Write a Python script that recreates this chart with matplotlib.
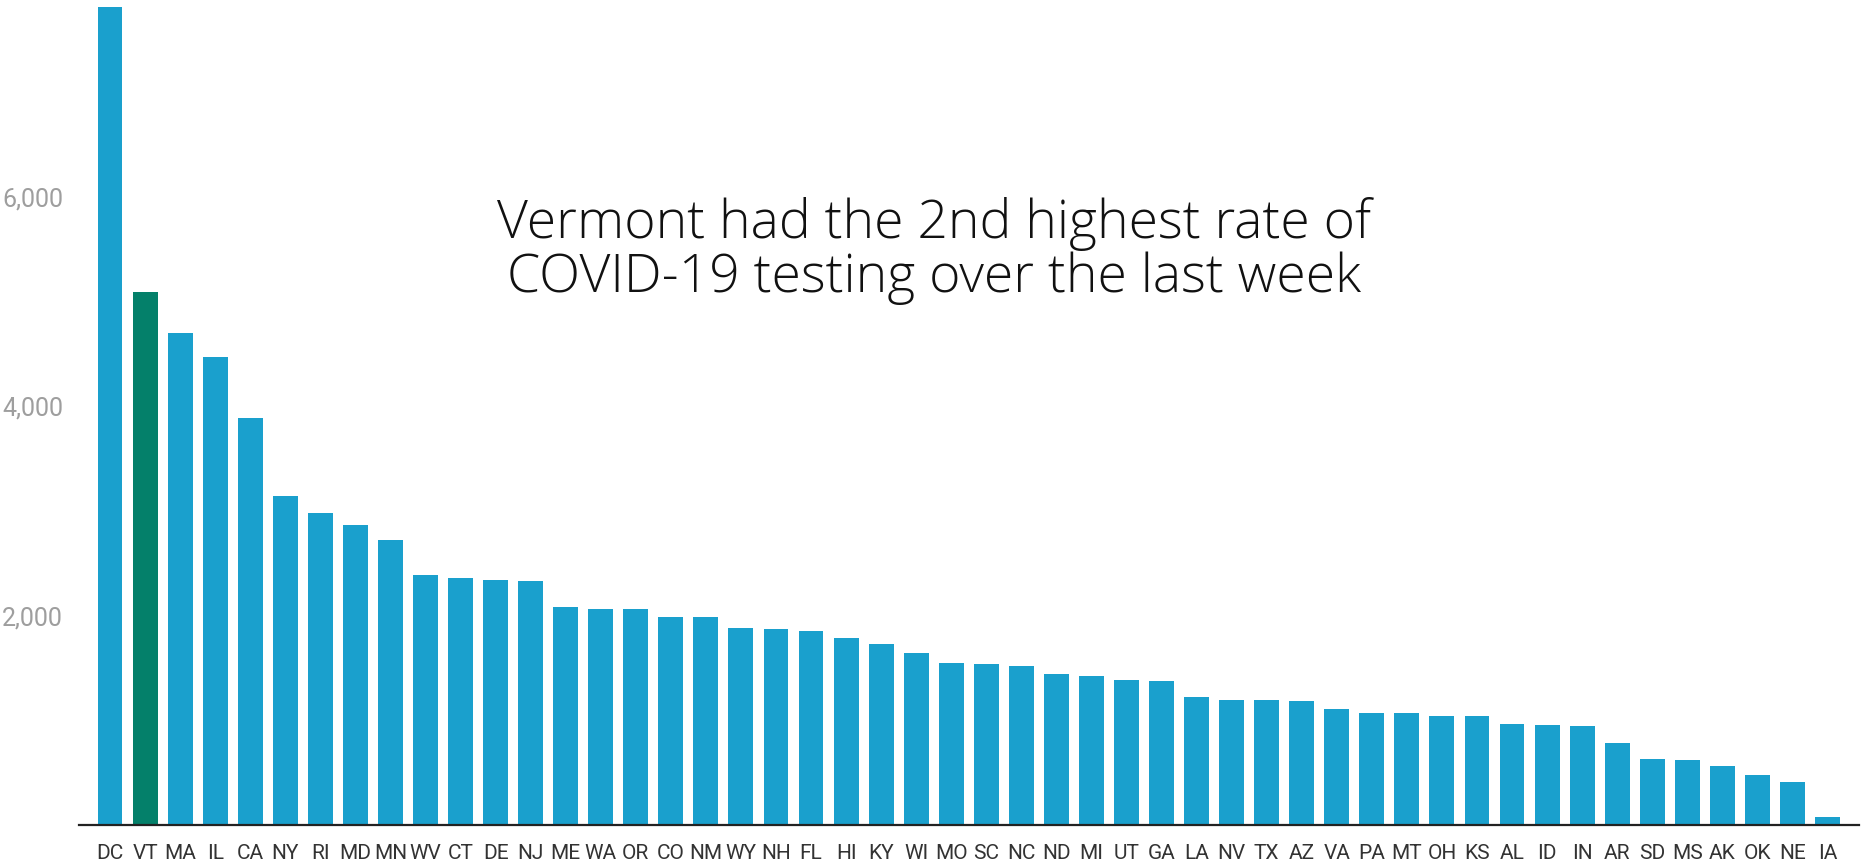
import matplotlib
matplotlib.use("Agg")
import matplotlib.pyplot as plt

states = ["DC", "VT", "MA", "IL", "CA", "NY", "RI", "MD", "MN", "WV", "CT", "DE", "NJ",
          "ME", "WA", "OR", "CO", "NM", "WY", "NH", "FL", "HI", "KY", "WI", "MO", "SC",
          "NC", "ND", "MI", "UT", "GA", "LA", "NV", "TX", "AZ", "VA", "PA", "MT", "OH",
          "KS", "AL", "ID", "IN", "AR", "SD", "MS", "AK", "OK", "NE", "IA"]
tests_per_100k = [7817, 5091, 4703, 4471, 3892, 3139, 2981, 2862, 2726, 2391, 2363, 2344, 2334,
                  2079, 2067, 2067, 1991, 1991, 1883, 1873, 1854, 1784, 1733, 1644, 1549, 1539,
                  1520, 1440, 1421, 1389, 1380, 1224, 1192, 1192, 1182, 1112, 1074, 1074, 1045,
                  1045, 969, 959, 947, 781, 632, 622, 565, 473, 415, 72]
highlight = "VT"
yticks = [2000, 4000, 6000]
ytick_labels = ["2,000", "4,000", "6,000"]
title_lines = ["Vermont had the 2nd highest rate of", "COVID-19 testing over the last week"]

BLUE = "#1aa0cd"
GREEN = "#04806a"

fig = plt.figure(figsize=(18.65, 8.65), dpi=100)
ax = fig.add_axes([78.5 / 1865, 40 / 865, (1859 - 78.5) / 1865, 825 / 865])

x = list(range(len(states)))
colors = [GREEN if s == highlight else BLUE for s in states]
ax.bar(x, tests_per_100k, width=0.71, color=colors, zorder=2)

ax.set_xlim(-0.9, len(states) - 0.1)
ax.set_ylim(0, 7880)

for s in ["top", "right", "left"]:
    ax.spines[s].set_visible(False)
ax.spines["bottom"].set_color("#222222")
ax.spines["bottom"].set_linewidth(1.6)
ax.spines["bottom"].set_zorder(3)

ax.set_yticks(yticks)
ax.set_yticklabels(ytick_labels, fontfamily="Roboto", fontsize=18, color="#9e9e9e")
ax.set_xticks(x)
ax.set_xticklabels(states, fontfamily=["Liberation Sans Narrow", "Roboto"], fontsize=15, color="#333333")
ax.tick_params(axis="y", length=0, pad=11)
ax.tick_params(axis="x", length=0, pad=14)

for line, ybase in zip(title_lines, [238, 292]):
    fig.text(0.501, 1 - ybase / 865, line, ha="center", va="baseline",
             fontfamily="Open Sans", fontweight="light", fontsize=38.5, color="#111111")

fig.savefig("out.png", dpi=100, facecolor="white")
